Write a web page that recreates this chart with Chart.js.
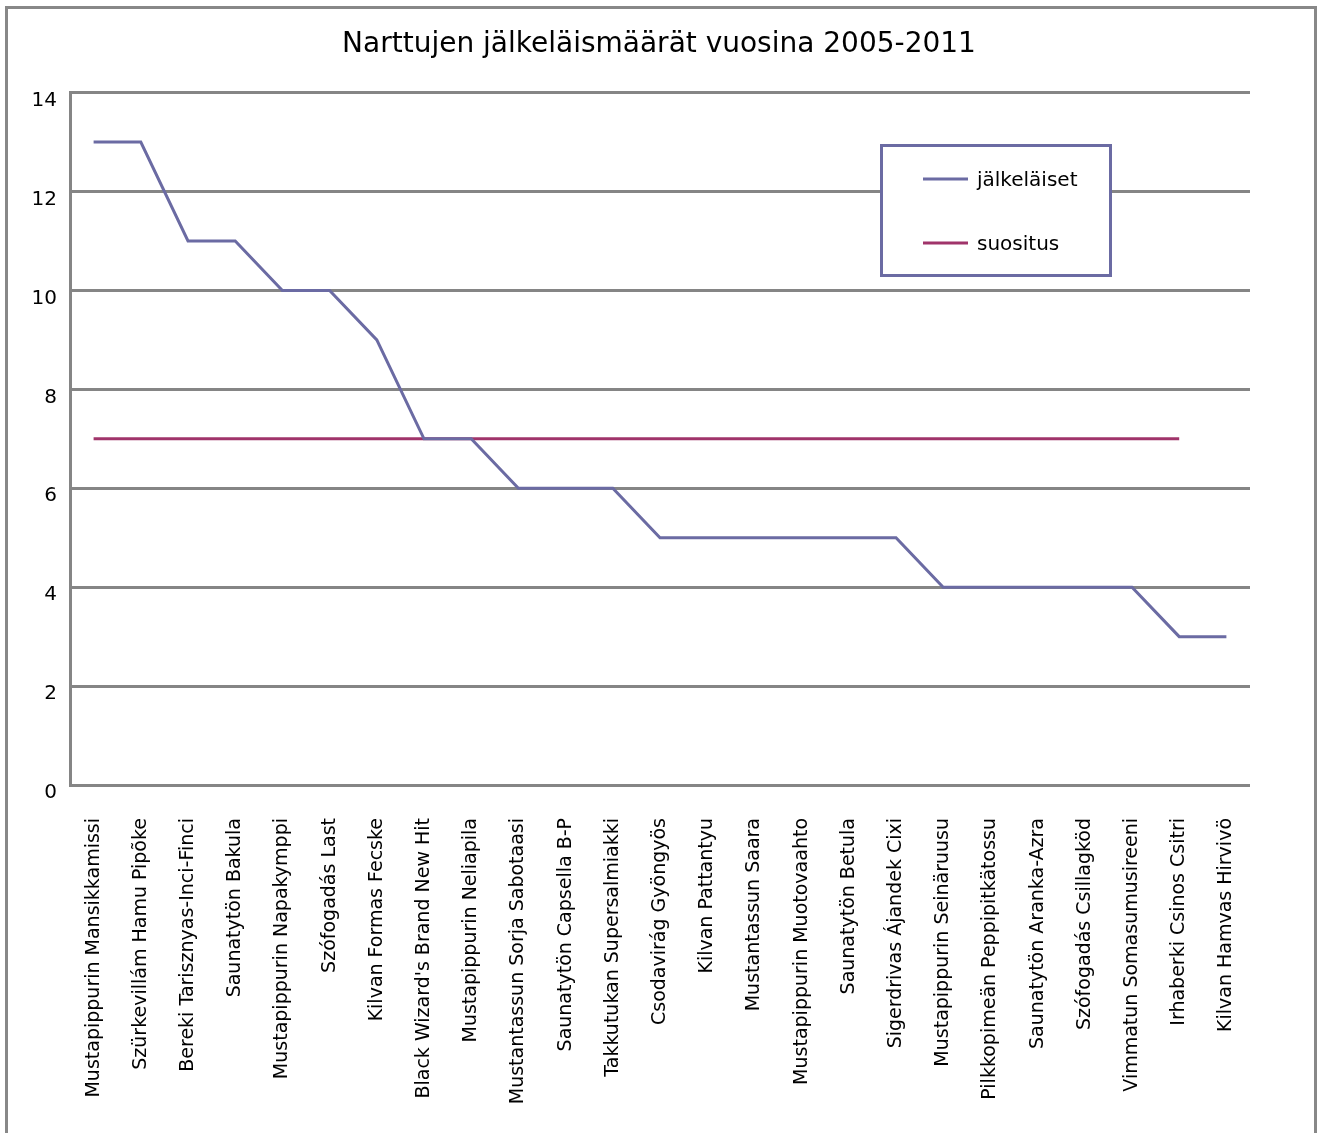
<!DOCTYPE html>
<html>
<head>
<meta charset="utf-8">
<script src="https://cdn.jsdelivr.net/npm/chart.js@4/dist/chart.umd.min.js"></script>
<style>
  body { margin: 0; background: #fff; }
  canvas { display: block; }
</style>
</head>
<body>
<canvas id="chart" width="1318" height="1133"></canvas>
<script>
'use strict';

const dogNames = [
  'Mustapippurin Mansikkamissi',
  'Szürkevillám Hamu Pipõke',
  'Bereki Tarisznyas-Inci-Finci',
  'Saunatytön Bakula',
  'Mustapippurin Napakymppi',
  'Szófogadás Last',
  'Kilvan Formas Fecske',
  'Black Wizard\'s Brand New Hit',
  'Mustapippurin Neliapila',
  'Mustantassun Sorja Sabotaasi',
  'Saunatytön Capsella B-P',
  'Takkutukan Supersalmiakki',
  'Csodavirág Gyöngyös',
  'Kilvan Pattantyu',
  'Mustantassun Saara',
  'Mustapippurin Muotovaahto',
  'Saunatytön Betula',
  'Sigerdrivas Ájandek Cixi',
  'Mustapippurin Seinäruusu',
  'Pilkkopimeän Peppipitkätossu',
  'Saunatytön Aranka-Azra',
  'Szófogadás Csillagköd',
  'Vimmatun Somasumusireeni',
  'Irhaberki Csinos Csitri',
  'Kilvan Hamvas Hirvivö'
];
const offspring = [13, 13, 11, 11, 10, 10, 9, 7, 7, 6, 6, 6, 5, 5, 5, 5, 5, 5, 4, 4, 4, 4, 4, 3, 3];
const recommended = [7, 7, 7, 7, 7, 7, 7, 7, 7, 7, 7, 7, 7, 7, 7, 7, 7, 7, 7, 7, 7, 7, 7, 7, null];
const yTicks = [0, 2, 4, 6, 8, 10, 12, 14];

const FONT = 'DejaVu Sans';
const GRID = '#858585';

// outer frame
const framePlugin = {
  id: 'frame',
  beforeDraw(chart) {
    const ctx = chart.ctx;
    ctx.save();
    ctx.fillStyle = '#fff';
    ctx.fillRect(0, 0, chart.width, chart.height);
    ctx.strokeStyle = '#888';
    ctx.lineWidth = 3;
    ctx.strokeRect(6.5, 7.5, 1309, 1140);
    ctx.restore();
  }
};

// boxed legend inside the plot
const boxLegend = {
  id: 'boxLegend',
  afterDraw(chart) {
    const ctx = chart.ctx;
    ctx.save();
    ctx.fillStyle = '#fff';
    ctx.fillRect(881, 145, 230, 130);
    ctx.strokeStyle = '#6b6ba3';
    ctx.lineWidth = 3;
    ctx.strokeRect(881.5, 145.5, 229, 130);
    const rows = [179, 243];
    chart.data.datasets.forEach(function (ds, i) {
      ctx.strokeStyle = ds.borderColor;
      ctx.lineWidth = 3;
      ctx.beginPath();
      ctx.moveTo(923, rows[i]);
      ctx.lineTo(968, rows[i]);
      ctx.stroke();
      ctx.fillStyle = '#000';
      ctx.font = '20px "' + FONT + '"';
      ctx.textBaseline = 'middle';
      ctx.fillText(ds.label, 977, rows[i] + 2);
    });
    ctx.restore();
  }
};

const ctx = document.getElementById('chart').getContext('2d');
const myChart = new Chart(ctx, {
  type: 'line',
  data: {
    labels: dogNames,
    datasets: [{
      label: 'jälkeläiset',
      data: offspring,
      borderColor: '#6b6ba3',
      borderWidth: 3,
      pointRadius: 0,
      tension: 0,
      fill: false
    },
    {
      label: 'suositus',
      data: recommended,
      borderColor: '#a0346a',
      borderWidth: 3,
      pointRadius: 0,
      tension: 0,
      fill: false
    }]
  },
  options: {
    responsive: false,
    animation: false,
    layout: {
      padding: { left: 0, right: 0, top: 0, bottom: 0 }
    },
    plugins: {
      legend: { display: false },
      tooltip: { enabled: false },
      title: {
        display: true,
        text: 'Narttujen jälkeläismäärät vuosina 2005-2011',
        color: '#000',
        font: { family: FONT, size: 28, weight: 'normal', lineHeight: 1.2 },
        padding: { top: 28, bottom: 31 }
      }
    },
    scales: {
      x: {
        offset: true,
        grid: { display: false, drawTicks: false },
        border: { display: false },
        ticks: {
          autoSkip: false,
          minRotation: 90,
          maxRotation: 90,
          padding: 33,
          color: '#000',
          font: { family: FONT, size: 19 }
        },
        afterFit: function (scale) {
          scale.height = 348;
        }
      },
      y: {
        min: 0,
        max: 14,
        afterBuildTicks: function (scale) {
          scale.ticks = yTicks.map(function (v) { return { value: v }; });
        },
        grid: { color: GRID, lineWidth: 3, drawTicks: false },
        border: { display: true, color: GRID, width: 3 },
        ticks: {
          padding: 13,
          labelOffset: 8,
          color: '#000',
          font: { family: FONT, size: 20 }
        },
        afterFit: function (scale) {
          scale.width = 70;
        }
      },
      // empty right margin so the title centres on the whole page
      spacer: {
        type: 'linear',
        position: 'right',
        grid: { display: false },
        border: { display: false },
        ticks: { display: false },
        afterFit: function (scale) {
          scale.width = 68;
        }
      }
    }
  },
  plugins: [framePlugin, boxLegend]
});
</script>
</body>
</html>
